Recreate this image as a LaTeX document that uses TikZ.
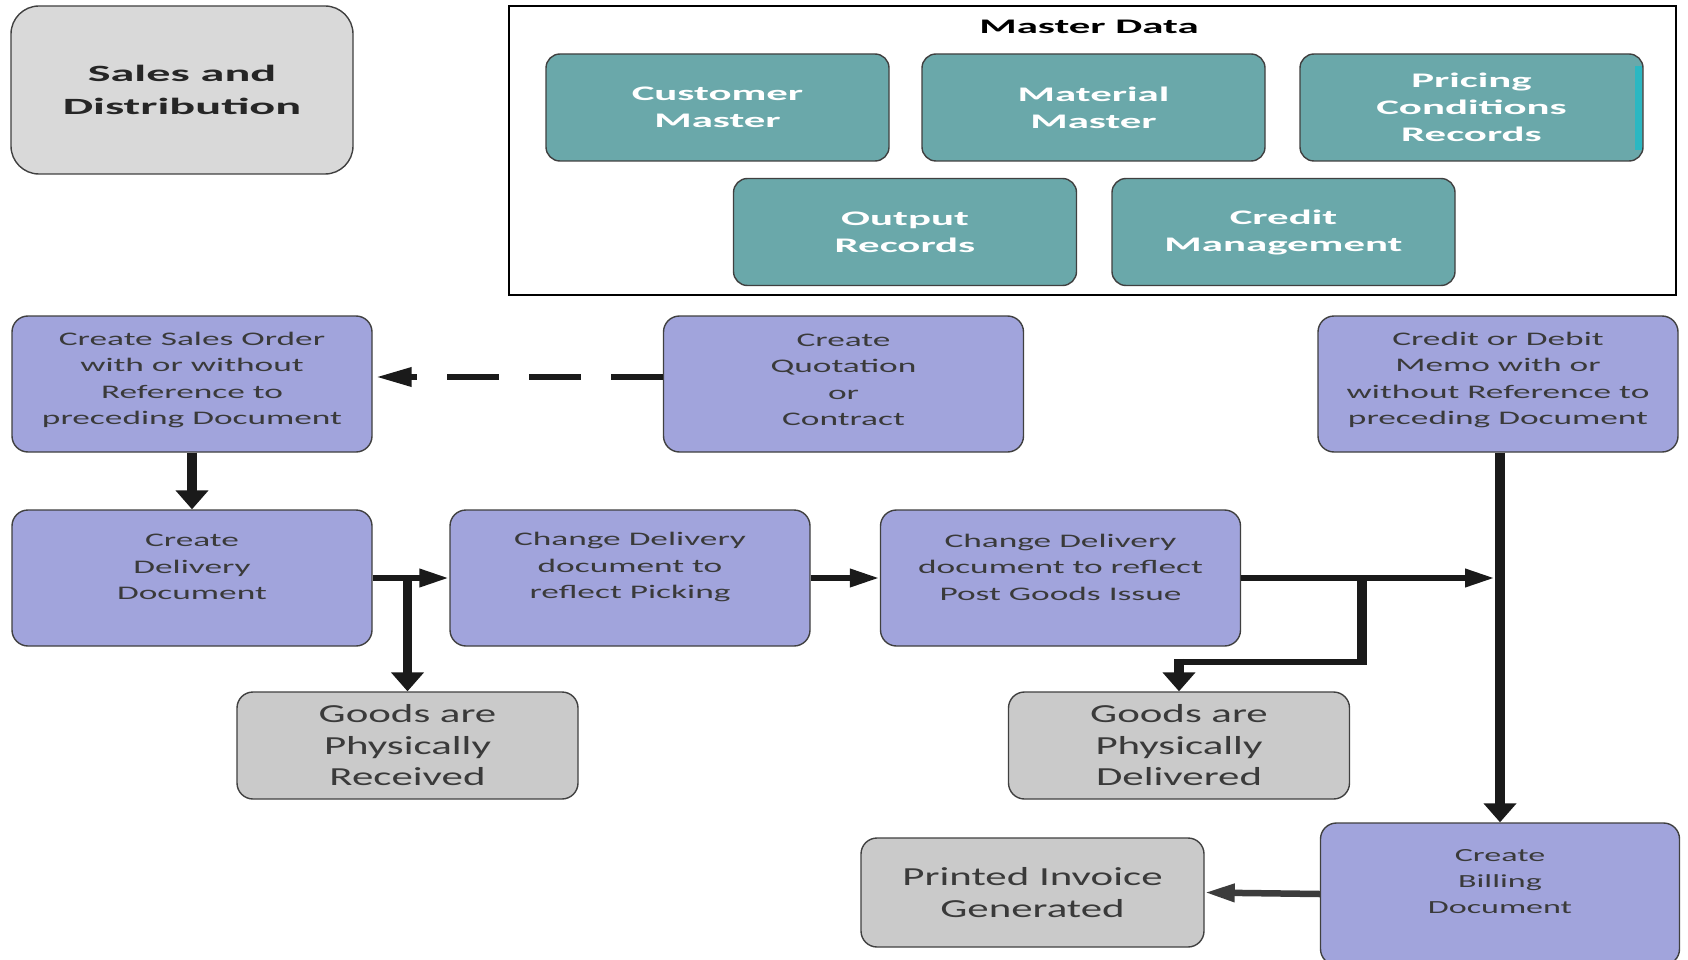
\documentclass[tikz,border=0pt]{standalone}
\usepackage{fontspec}
\usetikzlibrary{arrows.meta}
\setmainfont{Carlito}
\newfontfamily\procfont[FakeStretch=1.84]{Carlito}
\newfontfamily\goodsfont[FakeStretch=1.65]{Carlito}
\newfontfamily\titlefont[FakeStretch=2.07]{Carlito}
\definecolor{procfill}{HTML}{A1A4DC}
\definecolor{tealfill}{HTML}{6AA8AA}
\definecolor{sdfill}{HTML}{D9D9D9}
\definecolor{goodsfill}{HTML}{CACACA}
\definecolor{edge}{HTML}{404040}
\definecolor{ink}{HTML}{3A3A3A}
\definecolor{flow}{HTML}{1A1A1A}
\definecolor{cyanedge}{HTML}{2BB7C2}
\tikzset{
  card/.style={draw=edge, line width=1.4pt, rounded corners=16pt, inner sep=0pt},
  proc/.style={card, fill=procfill, minimum width=360pt, minimum height=136pt},
  proctext/.style={align=center, text=ink, inner sep=0pt,
    font=\procfont\fontsize{19.2pt}{26.5pt}\selectfont},
  billtext/.style={proctext, font=\procfont\fontsize{18.5pt}{26pt}\selectfont},
  master/.style={card, fill=tealfill, rounded corners=14pt, minimum width=343pt,
    minimum height=107pt, align=center, text=white,
    font=\titlefont\bfseries\fontsize{20.7pt}{27pt}\selectfont},
  goods/.style={card, fill=goodsfill, minimum width=341pt, minimum height=107pt,
    align=center, text=ink, font=\goodsfont\fontsize{26pt}{31.5pt}\selectfont},
  harrow/.style={draw=flow, line width=6.5pt, -{Triangle[length=30pt,width=17pt]}},
  varrow/.style={draw=flow, line width=9.5pt, -{Triangle[length=19pt,width=32pt]}},
  hline/.style={draw=flow, line width=6.5pt},
  vline/.style={draw=flow, line width=9.5pt},
  dasharrow/.style={draw=flow, line width=6.5pt, dash pattern=on 52pt off 30pt,
    -{Triangle[length=36pt,width=18pt]}},
}
\begin{document}
\begin{tikzpicture}[x=1pt,y=-1pt]
\useasboundingbox (0,0) rectangle (1688,960);
\path[clip] (0,0) rectangle (1688,960);
\fill[white] (0,0) rectangle (1688,960);

% module title
\node[card, fill=sdfill, rounded corners=28pt, minimum width=342pt, minimum height=168pt,
      align=center, text=black!85,
      font=\titlefont\bfseries\fontsize{23.3pt}{33pt}\selectfont]
  (sd) at (182,90) {Sales and\\Distribution};

% master data panel
\draw[black, line width=1.5pt] (509,6) rectangle (1676,295);
\node[font=\titlefont\bfseries\fontsize{20.7pt}{27pt}\selectfont, text=black]
  (mdt) at (1089,27) {Master Data};
\node[master] (cust) at (717.5,107.5) {Customer\\Master};
\node[master] (matl) at (1093.5,107.5) {Material\\Master};
\node[master] (prc)  at (1471.5,107.5) {Pricing\\Conditions\\Records};
\fill[cyanedge] (1635,66) rectangle (1641.5,150);
\node[master] (outr) at (905,232) {Output\\Records};
\node[master] (crm)  at (1283.5,232) {Credit\\Management};

% process steps
\node[proc] (so) at (192,384) {};
\node[proctext] (so-t) at (192,380) {Create Sales Order\\with or without\\Reference to\\preceding Document};
\node[proc] (qc) at (843.5,384) {};
\node[proctext] (qc-t) at (843.5,380) {Create\\Quotation\\or\\Contract};
\node[proc] (cm) at (1498,384) {};
\node[proctext] (cm-t) at (1498,380) {Credit or Debit\\Memo with or\\without Reference to\\preceding Document};

\node[proc] (dd) at (192,578) {};
\node[proctext] (dd-t) at (192,567) {Create\\Delivery\\Document};
\node[proc] (pk) at (630,578) {};
\node[proctext] (pk-t) at (630,567) {Change Delivery\\document to\\reflect Picking};
\node[proc] (pg) at (1060.5,578) {};
\node[proctext] (pg-t) at (1060.5,567) {Change Delivery\\document to reflect\\Post Goods Issue};

\node[proc, minimum width=359pt, minimum height=142pt] (bd) at (1500,894) {};
\node[billtext] (bd-t) at (1500,882) {Create\\Billing\\Document};

% outcomes
\node[goods] (gr) at (407.5,745.5) {Goods are\\Physically\\Received};
\node[goods] (gd) at (1179,745.5) {Goods are\\Physically\\Delivered};
\node[goods, minimum width=343pt, minimum height=109pt] (pi) at (1032.5,892.5) {Printed Invoice\\Generated};

% flow
\draw[varrow] (so.south) -- (dd.north);
\draw[dasharrow] ([yshift=7pt]qc.west) -- ([xshift=3pt,yshift=7pt]so.east);
\draw[harrow] (dd.east) -- (pk.west);
\draw[varrow] (gr.north |- dd.east) -- (gr.north);
\draw[harrow] (pk.east) -- (pg.west);
\coordinate (spine) at ([xshift=2pt]cm.south);
\draw[harrow] (pg.east) -- ([xshift=-5pt]pg.east -| spine);
\coordinate (br) at (1362,578);
\coordinate (kink) at (1362,662);
\draw[vline] ([yshift=3pt]br) -- ([yshift=-3pt]kink);
\draw[hline] ([xshift=4.75pt]kink) -- ([xshift=-4.75pt]gd.north |- kink);
\draw[varrow] ([yshift=3.25pt]gd.north |- kink) -- (gd.north);
\draw[varrow] (spine) -- (spine |- bd.north);
\draw[harrow, draw=flow!85] (bd.west) -- (pi.east);
\end{tikzpicture}
\end{document}
